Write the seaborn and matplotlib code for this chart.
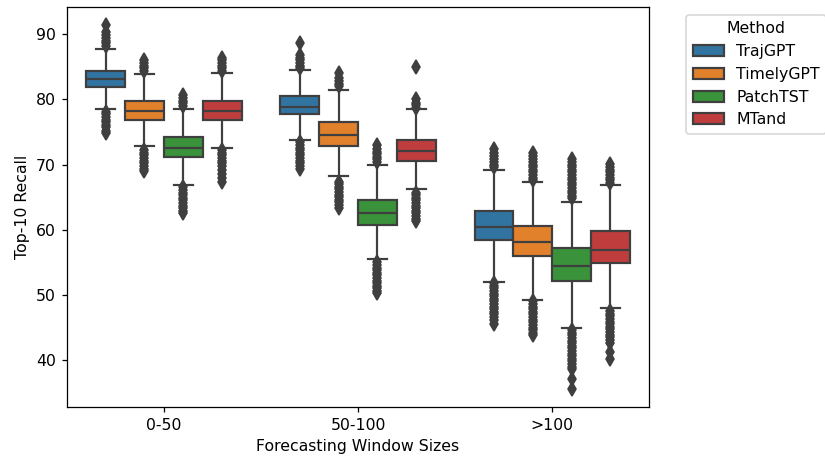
import pandas as pd
import seaborn as sns
import matplotlib.pyplot as plt

windows = ["0-50", "50-100", ">100"]
methods = ["TrajGPT", "TimelyGPT", "PatchTST", "MTand"]

# box statistics: one row per window, one column per method
q1 = [[81.9, 76.8, 71.2, 76.8], [77.7, 72.9, 60.8, 70.6], [58.5, 56.0, 52.2, 54.9]]
median = [[83.1, 78.3, 72.6, 78.15], [78.9, 74.6, 62.6, 72.15], [60.5, 58.15, 54.5, 56.9]]
q3 = [[84.4, 79.8, 74.3, 79.8], [80.5, 76.5, 64.6, 73.8], [62.9, 60.6, 57.2, 59.8]]
whisker_lo = [[78.5, 72.8, 66.8, 72.6], [73.8, 68.2, 55.5, 66.2], [52.0, 49.2, 44.9, 48.0]]
whisker_hi = [[87.8, 83.9, 78.6, 84.0], [84.5, 81.4, 70.0, 78.5], [69.1, 67.4, 64.3, 66.8]]

# outliers above the upper whisker
fliers_hi_0_50 = [
    [88.2, 88.6, 89.0, 89.4, 89.9, 90.3, 91.4],
    [84.4, 84.8, 85.2, 85.6, 86.1],
    [79.0, 79.4, 79.8, 80.2, 80.7],
    [84.4, 84.8, 85.2, 85.6, 86.0, 86.4],
]
fliers_hi_50_100 = [
    [84.8, 85.2, 85.6, 86.0, 86.4, 86.8, 88.6],
    [82.0, 82.4, 82.8, 83.3, 84.0],
    [70.4, 70.8, 71.2, 71.6, 72.0, 72.4, 73.0],
    [78.7, 79.1, 79.5, 80.0, 84.9],
]
fliers_hi_100 = [
    [69.6, 70.0, 70.4, 70.8, 71.3, 71.8, 72.4],
    [67.6, 68.0, 68.4, 68.8, 69.2, 69.6, 70.0, 70.4, 70.8, 71.3, 71.8],
    [64.8, 65.2, 65.6, 66.0, 66.4, 66.8, 67.2, 67.6, 68.0, 68.4, 68.8, 69.2,
     69.6, 70.0, 70.4, 70.9],
    [67.2, 67.6, 68.0, 68.4, 68.8, 69.2, 69.6, 70.1],
]

# outliers below the lower whisker
fliers_lo_0_50 = [
    [78.1, 77.7, 77.3, 76.9, 76.5, 76.1, 75.7, 75.2, 74.8],
    [72.2, 71.8, 71.4, 71.0, 70.6, 70.2, 69.8, 69.4, 69.0],
    [66.5, 66.1, 65.7, 65.3, 64.9, 64.5, 64.1, 63.7, 63.3, 62.9, 62.5],
    [72.2, 71.8, 71.4, 71.0, 70.6, 70.2, 69.8, 69.2, 68.6, 68.0, 67.3],
]
fliers_lo_50_100 = [
    [73.4, 73.0, 72.6, 72.2, 71.8, 71.4, 71.0, 70.6, 70.2, 69.8, 69.3],
    [67.4, 67.0, 66.6, 66.2, 65.8, 65.4, 65.0, 64.6, 64.2, 63.8, 63.3],
    [55.0, 54.6, 54.2, 53.8, 53.4, 53.0, 52.6, 52.2, 51.8, 51.4, 51.0, 50.6, 50.3],
    [65.7, 65.3, 64.9, 64.5, 64.1, 63.7, 63.3, 62.9, 62.5, 62.1, 61.7, 61.3],
]
fliers_lo_100 = [
    [51.8, 51.4, 51.0, 50.6, 50.2, 49.8, 49.4, 49.0, 48.6, 48.2, 47.8, 47.4,
     47.0, 46.6, 46.2, 45.6],
    [49.0, 48.6, 48.2, 47.8, 47.4, 47.0, 46.6, 46.2, 45.8, 45.4, 45.0, 44.6,
     44.2, 43.9],
    [44.6, 44.2, 43.8, 43.4, 43.0, 42.6, 42.2, 41.8, 41.4, 41.0, 40.6, 40.2,
     39.8, 39.4, 39.0, 38.6, 37.1, 35.6],
    [47.5, 47.1, 46.7, 46.3, 45.9, 45.5, 45.1, 44.7, 44.3, 43.9, 43.5, 43.1,
     42.6, 41.2, 40.1],
]

fliers_hi = [fliers_hi_0_50, fliers_hi_50_100, fliers_hi_100]
fliers_lo = [fliers_lo_0_50, fliers_lo_50_100, fliers_lo_100]

# rebuild a sample per box whose quartiles, whiskers and outliers match the stats
reps = 300
rows = []
for i, w in enumerate(windows):
    for j, m in enumerate(methods):
        values = (
            fliers_lo[i][j]
            + [whisker_lo[i][j]]
            + [q1[i][j]] * reps
            + [median[i][j]] * reps
            + [q3[i][j]] * reps
            + [whisker_hi[i][j]]
            + fliers_hi[i][j]
        )
        rows += [(w, m, v) for v in values]
df = pd.DataFrame(rows, columns=["Window", "Method", "Recall"])

# the reference looks like a 10pt figure rendered a bit larger, so use dpi 113
dpi = 113
fig = plt.figure(figsize=(825 / dpi, 463 / dpi), dpi=dpi)
ax = fig.add_axes([0.081, 0.121, 0.706, 0.864])

line_color = "#3f3f3f"
sns.boxplot(
    data=df,
    x="Window",
    y="Recall",
    hue="Method",
    order=windows,
    hue_order=methods,
    palette="tab10",
    saturation=0.75,
    linecolor=line_color,
    linewidth=1.4,
    fliersize=6,
    flierprops=dict(marker="d", markerfacecolor=line_color,
                    markeredgecolor=line_color, markeredgewidth=1.0),
    ax=ax,
)

ax.set_xlabel("Forecasting Window Sizes")
ax.set_ylabel("Top-10 Recall")
sns.move_legend(ax, "upper left", bbox_to_anchor=(1.05, 1), title="Method")

fig.savefig("out.png", dpi=dpi)
